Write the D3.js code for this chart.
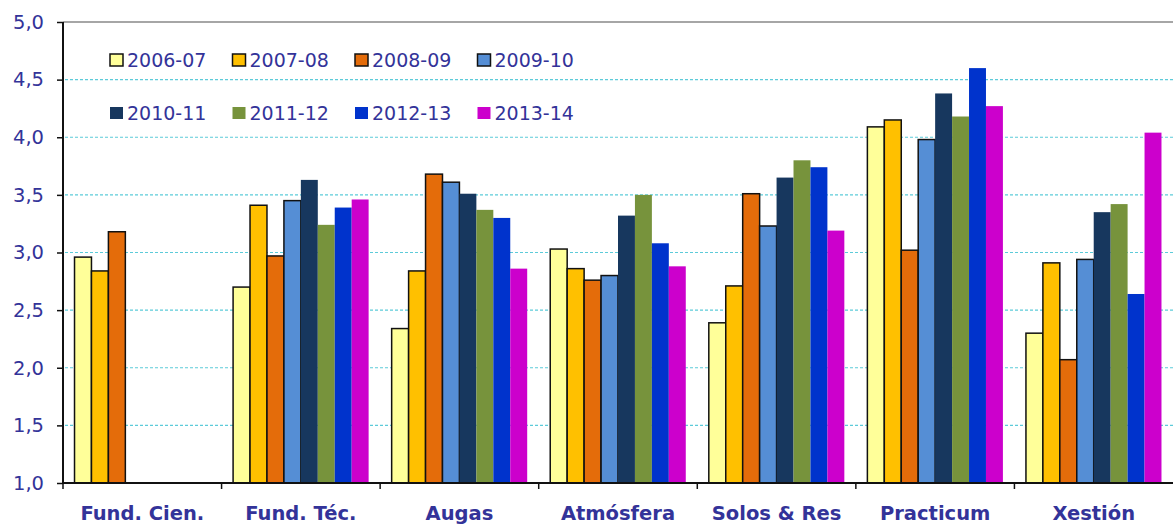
<!DOCTYPE html>
<html><head><meta charset="utf-8">
<script src="https://cdn.jsdelivr.net/npm/d3@7"></script>
<style>body{margin:0;background:#fff}svg{display:block}</style>
</head><body>
<svg id="c" width="1173" height="524"></svg>
<script>
const categories = ["Fund. Cien.", "Fund. Téc.", "Augas", "Atmósfera", "Solos & Res", "Practicum", "Xestión"];
const seriesNames = ["2006-07", "2007-08", "2008-09", "2009-10", "2010-11", "2011-12", "2012-13", "2013-14"];
const s2006 = [2.96, 2.70, 2.34, 3.03, 2.39, 4.09, 2.30];
const s2007 = [2.84, 3.41, 2.84, 2.86, 2.71, 4.15, 2.91];
const s2008 = [3.18, 2.97, 3.68, 2.76, 3.51, 3.02, 2.07];
const s2009 = [null, 3.45, 3.61, 2.80, 3.23, 3.98, 2.94];
const s2010 = [null, 3.63, 3.51, 3.32, 3.65, 4.38, 3.35];
const s2011 = [null, 3.24, 3.37, 3.50, 3.80, 4.18, 3.42];
const s2012 = [null, 3.39, 3.30, 3.08, 3.74, 4.60, 2.64];
const s2013 = [null, 3.46, 2.86, 2.88, 3.19, 4.27, 4.04];
const seriesValues = [s2006, s2007, s2008, s2009, s2010, s2011, s2012, s2013];
const colors = ["#FFFF99", "#FFC000", "#E46C0A", "#558ED5", "#17375E", "#77933C", "#0033CC", "#CC00CC"];
const outlined = [true, true, true, true, false, false, false, false];
const yTicks = [1.0, 1.5, 2.0, 2.5, 3.0, 3.5, 4.0, 4.5, 5.0];

(function () {
const svg = d3.select("#c");
const mL = 63, mR = 1173, mT = 22, mB = 483;
const textColor = "#333399";
const font = "'DejaVu Sans', Verdana, sans-serif";

const x0 = d3.scaleBand().domain(categories).range([mL, mR]).paddingInner(0).paddingOuter(0);
const x1 = d3.scaleBand().domain(seriesNames).range([0, x0.bandwidth()]).paddingOuter(0.68).paddingInner(0);
const y = d3.scaleLinear().domain([1, 5]).range([mB, mT]);

// gridlines
svg.append("g").selectAll("line").data(yTicks.filter(t => t > 1 && t < 5)).join("line")
  .attr("x1", mL + 2).attr("x2", mR)
  .attr("y1", d => y(d)).attr("y2", d => y(d))
  .attr("stroke", "#5CCBD9").attr("stroke-width", 1.2).attr("stroke-dasharray", "3,2");
// top border
svg.append("line").attr("x1", mL).attr("x2", mR).attr("y1", y(5)).attr("y2", y(5))
  .attr("stroke", "#888").attr("stroke-width", 1.5);

// bars
const groups = svg.append("g").selectAll("g").data(seriesNames).join("g");
groups.each(function(name, si) {
  const data = categories.map((c, ci) => ({c, v: seriesValues[si][ci]})).filter(d => d.v != null);
  d3.select(this).selectAll("rect").data(data).join("rect")
    .attr("x", d => x0(d.c) + x1(name))
    .attr("width", x1.bandwidth())
    .attr("y", d => y(d.v))
    .attr("height", d => y(1) - y(d.v))
    .attr("fill", colors[si])
    .attr("stroke", outlined[si] ? "#111" : "none")
    .attr("stroke-width", outlined[si] ? 1.5 : 0);
});

// y axis
const yAxis = d3.axisLeft(y).tickValues(yTicks).tickSize(6).tickPadding(13)
  .tickFormat(d => d3.format(".1f")(d).replace(".", ","));
const ya = svg.append("g").attr("transform", `translate(${mL},0)`).call(yAxis);
ya.select(".domain").attr("stroke", "#111").attr("stroke-width", 2).attr("d", `M0,${mT}V${mB}`);
ya.selectAll(".tick line").attr("stroke", "#111").attr("stroke-width", 1.5);
ya.selectAll(".tick text").attr("fill", textColor).attr("font-family", font).attr("font-size", 19.5);

// x axis
const xa = svg.append("g").attr("transform", `translate(0,${mB})`);
xa.append("line").attr("x1", mL).attr("x2", mR).attr("stroke", "#111").attr("stroke-width", 2);
xa.selectAll(".tk").data(categories).join("line").attr("class", "tk")
  .attr("x1", d => x0(d)).attr("x2", d => x0(d)).attr("y1", 0).attr("y2", 6)
  .attr("stroke", "#111").attr("stroke-width", 1.5);
xa.selectAll("text").data(categories).join("text")
  .attr("x", d => x0(d) + x0.bandwidth() / 2).attr("y", 37)
  .attr("text-anchor", "middle").attr("fill", textColor)
  .attr("font-family", font).attr("font-weight", "bold").attr("font-size", 19.5)
  .text(d => d);

// legend
const legend = svg.append("g");
seriesNames.forEach((n, i) => {
  const row = Math.floor(i / 4), col = i % 4;
  const lx = 110 + col * 122.5, ly = 60 + row * 53;
  legend.append("rect").attr("x", lx).attr("y", ly - 6).attr("width", 13).attr("height", 12)
    .attr("fill", colors[i]).attr("stroke", outlined[i] ? "#111" : "none").attr("stroke-width", 1.5);
  legend.append("text").attr("x", lx + 17).attr("y", ly).attr("dy", "0.36em")
    .attr("fill", textColor).attr("font-family", font).attr("font-size", 19).text(n);
});
})();
</script>
</body></html>
